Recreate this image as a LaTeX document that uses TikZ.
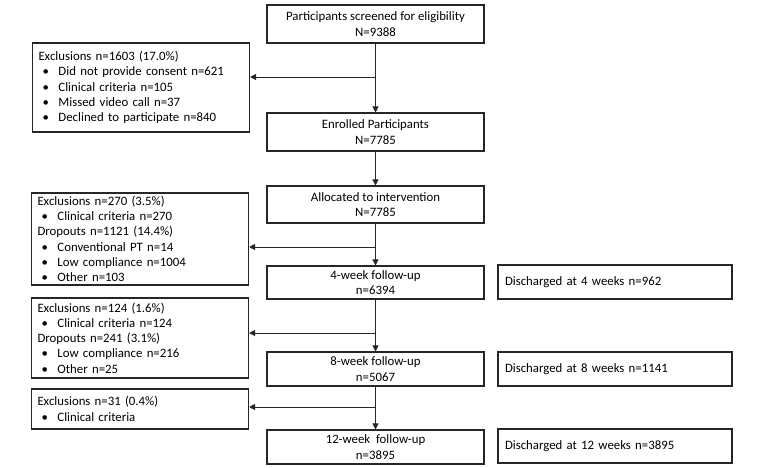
\documentclass[tikz,border=0pt]{standalone}
\usepackage{fontspec}
\setmainfont{Carlito}
\usetikzlibrary{arrows.meta}
\tikzset{
stage/.style = { rectangle, draw = black!85, line width = 1.1pt, fill = white, minimum width = 217pt, align = center, inner sep = 1pt },
excl/.style = { rectangle, draw = black!85, line width = 1.1pt, fill = white, minimum width = 217pt, text width = 205pt, inner xsep = 6pt, inner ysep = 1pt, align = left },
disch/.style = { rectangle, draw = black!85, line width = 1.1pt, fill = white, minimum width = 234pt, text width = 220pt, inner xsep = 7pt, align = left },
flow/.style = { draw = black!85, line width = 0.9pt, -{Triangle[length = 6pt, width = 6pt]} },
}
\newcommand{\itm}[1]{\hspace*{4pt}\makebox[16pt][l]{\textbullet}#1}

\begin{document}
\begin{tikzpicture}[x = 1pt, y = -1pt, font = \fontsize{12.8pt}{15.3pt}\selectfont]
    \useasboundingbox (0, 0) rectangle (781, 468);
    % main column
    \node[stage, minimum height = 38pt] (scr) at (375.5, 24) {Participants screened for eligibility\\N=9388};
    \node[stage, minimum height = 38pt] (enr) at (375.5, 132) {Enrolled Participants\\N=7785};
    \node[stage, minimum height = 37pt] (alloc) at (375.5, 204.5) {Allocated to intervention\\N=7785};
    \node[stage, minimum height = 33pt] (fu4) at (375.5, 282.5) {4-week follow-up\\n=6394};
    \node[stage, minimum height = 34pt] (fu8) at (375.5, 369) {8-week follow-up\\n=5067};
    \node[stage, minimum height = 34pt] (fu12) at (375.5, 447) {12-week\ \ follow-up\\n=3895};
    % exclusions
    \node[excl, minimum height = 89pt] (ex1) at (141, 87.5) {Exclusions n=1603 (17.0\%)\\\itm{Did not provide consent n=621}\\\itm{Clinical criteria n=105}\\\itm{Missed video call n=37}\\\itm{Declined to participate n=840}};
    \node[excl, minimum height = 92pt] (ex2) at (140, 239) {Exclusions n=270 (3.5\%)\\\itm{Clinical criteria n=270}\\Dropouts n=1121 (14.4\%)\\\itm{Conventional PT n=14}\\\itm{Low compliance n=1004}\\\itm{Other n=103}};
    \node[excl, minimum height = 80pt] (ex3) at (140, 338) {Exclusions n=124 (1.6\%)\\\itm{Clinical criteria n=124}\\Dropouts n=241 (3.1\%)\\\itm{Low compliance n=216}\\\itm{Other n=25}};
    \node[excl, minimum height = 40pt] (ex4) at (140, 409) {Exclusions n=31 (0.4\%)\\\itm{Clinical criteria}};
    % discharged
    \node[disch, minimum height = 34pt] (dc4) at (615, 282) {Discharged at 4 weeks n=962};
    \node[disch, minimum height = 34pt] (dc8) at (615, 369) {Discharged at 8 weeks n=1141};
    \node[disch, minimum height = 34pt] (dc12) at (615, 446) {Discharged at 12 weeks n=3895};
    % branch points
    \coordinate (b1) at (375.5, 77);
    \coordinate (b2) at (375.5, 247);
    \coordinate (b3) at (375.5, 333);
    \coordinate (b4) at (375.5, 407);
    \draw[flow] (scr) -- (enr);
    \draw[flow] (enr) -- (alloc);
    \draw[flow] (alloc) -- (fu4);
    \draw[flow] (fu4) -- (fu8);
    \draw[flow] (fu8) -- (fu12);
    \draw[flow] (b1) -- (b1 -| ex1.east);
    \draw[flow] (b2) -- (b2 -| ex2.east);
    \draw[flow] (b3) -- (b3 -| ex3.east);
    \draw[flow] (b4) -- (b4 -| ex4.east);
\end{tikzpicture}
\end{document}
